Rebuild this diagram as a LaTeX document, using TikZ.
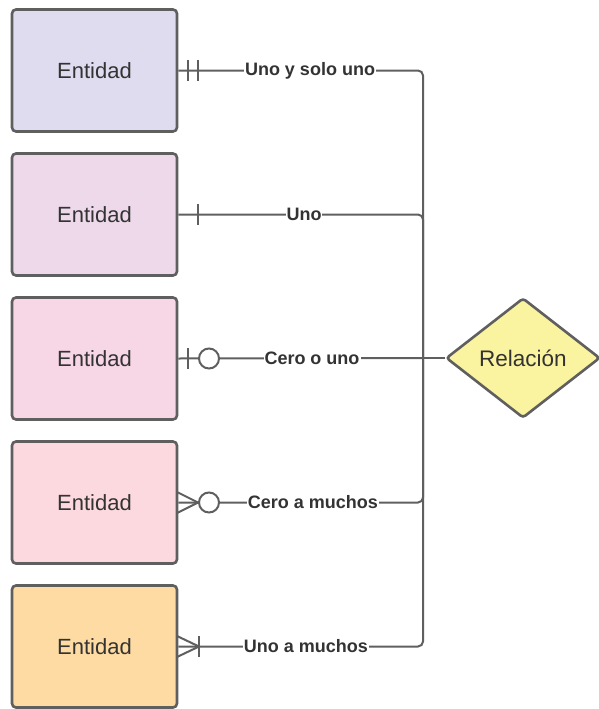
\documentclass[tikz,border=0pt]{standalone}
\usepackage{fontspec}
\setmainfont{Liberation Sans}
\usetikzlibrary{shapes.geometric}
\definecolor{edge}{HTML}{5F5F5F}
\definecolor{ink}{HTML}{333333}
\definecolor{fillA}{HTML}{DFDCEF}
\definecolor{fillB}{HTML}{EDD9EA}
\definecolor{fillC}{HTML}{F7D6E6}
\definecolor{fillD}{HTML}{FCD9DE}
\definecolor{fillE}{HTML}{FDDBA3}
\definecolor{fillR}{HTML}{FAF3A0}
\begin{document}
\begin{tikzpicture}[x=1pt,y=-1pt,
  entity/.style={draw=edge,line width=2.6pt,rounded corners=4pt,minimum width=165pt,minimum height=122pt,inner sep=0pt,text=ink,font=\fontsize{22}{25}\selectfont},
  relation/.style={diamond,draw=edge,line width=2.6pt,rounded corners=3pt,fill=fillR,minimum width=154pt,minimum height=120pt,inner sep=0pt,text=ink,font=\fontsize{22.5}{25}\selectfont},
  link/.style={draw=edge,line width=2pt,rounded corners=5pt},
  cardmark/.style={draw=edge,line width=2pt},
  tag/.style={fill=white,inner sep=1pt,text=ink,font=\bfseries\fontsize{18}{20}\selectfont}]
\useasboundingbox (0,0) rectangle (598,709);
% entities
\node[entity,fill=fillA] (e1) at (94.5,70.5) {Entidad};
\node[entity,fill=fillB] (e2) at (94.5,214.5) {Entidad};
\node[entity,fill=fillC] (e3) at (94.5,358.5) {Entidad};
\node[entity,fill=fillD] (e4) at (94.5,502.5) {Entidad};
\node[entity,fill=fillE] (e5) at (94.5,646.5) {Entidad};
% relationship
\node[relation] (r) at (523,358) {Relación};
% bus coordinates
\coordinate (bus) at (423,358);
% connectors from each entity to the relationship
\draw[link] (e1.east) -- (bus |- e1.east) -- (bus);
\draw[link] (e2.east) -- (bus |- e2.east) -- (bus);
\draw[link] (e3.east) -- (bus);
\draw[link] (e4.east) -- (bus |- e4.east) -- (bus);
\draw[link] (e5.east) -- (bus |- e5.east) -- (bus);
\draw[link] (bus) -- (r.west);
% cardinality marks
\draw[cardmark] (188,60) -- (188,81) (198,60) -- (198,81);
\draw[cardmark] (198,204) -- (198,225);
\draw[cardmark] (188,348) -- (188,369);
\draw[cardmark,fill=white] (209,358.5) circle (10pt);
\draw[cardmark] (177,492) -- (198,502.5) -- (177,513);
\draw[cardmark,fill=white] (209,502.5) circle (10pt);
\draw[cardmark] (177,636) -- (199,646.5) -- (177,657);
\draw[cardmark] (199,636) -- (199,657);
% connector labels
\node[tag] (t1) at (310,70.5) {Uno y solo uno};
\node[tag] (t2) at (304,214.5) {Uno};
\node[tag] (t3) at (312,358) {Cero o uno};
\node[tag] (t4) at (313,502.5) {Cero a muchos};
\node[tag] (t5) at (306,646.5) {Uno a muchos};
\end{tikzpicture}
\end{document}
